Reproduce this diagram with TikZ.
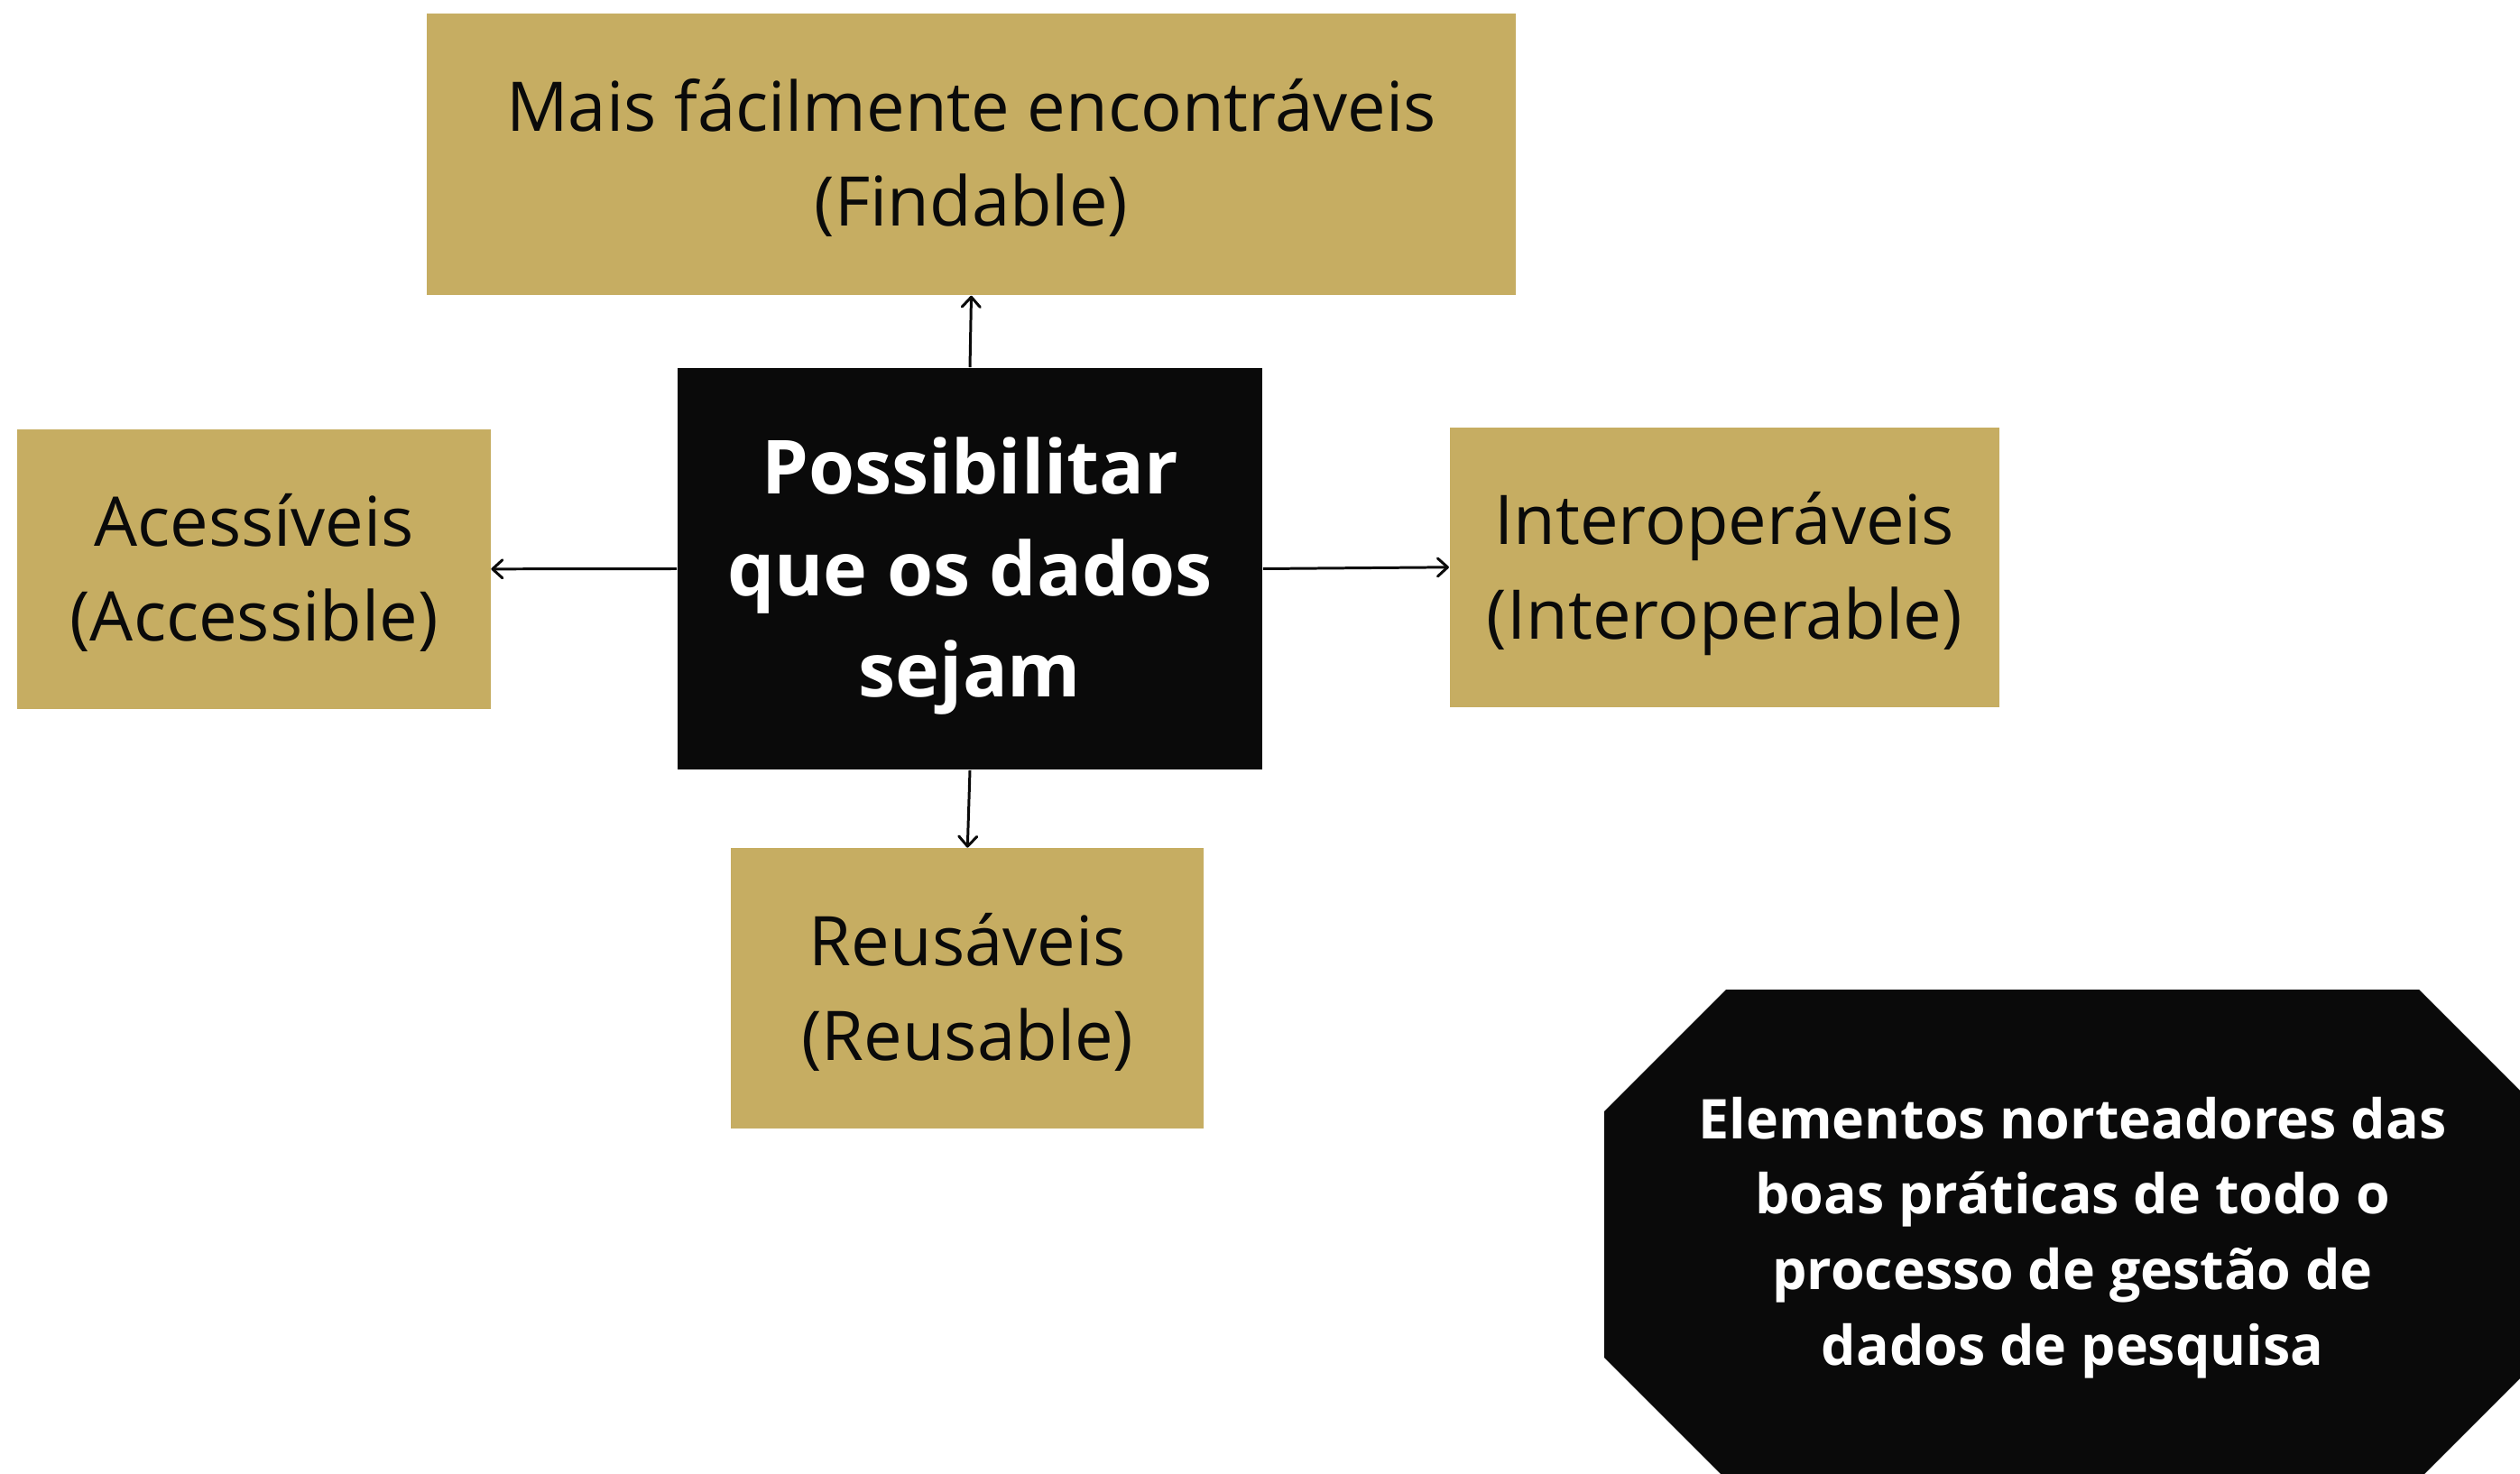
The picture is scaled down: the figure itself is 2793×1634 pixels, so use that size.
\documentclass[tikz,border=0pt]{standalone}
\usepackage{fontspec}
\setmainfont{Open Sans}
\usetikzlibrary{arrows.meta}
\definecolor{fairgold}{HTML}{C6AD62}
\definecolor{fairblack}{HTML}{0A0A0A}
\begin{document}
\begin{tikzpicture}[x=0.01cm, y=-0.01cm,
  goldbox/.style={rectangle, fill=fairgold, text=fairblack, inner sep=0pt, align=center, minimum height=3.1cm, font=\fontsize{21.6}{29.9}\selectfont, text height=45.3pt, text depth=0pt},
  arr/.style={line width=0.85pt, fairblack, -{Straight Barb[length=1.1mm, width=2mm, round]}}]
\clip (0,0) rectangle (2793,1634);
\node[goldbox, minimum width=12.07cm, minimum height=3.12cm] (findable) at (1076.5,171){Mais fácilmente encontráveis\\(Findable)};
\node[goldbox, minimum width=5.24cm] (accessible) at (281.5,630.8){Acessíveis\\(Accessible)};
\node[goldbox, minimum width=6.09cm] (interop) at (1911.3,628.8){Interoperáveis\\(Interoperable)};
\node[goldbox, minimum width=5.24cm] (reusable) at (1072.3,1095.5){Reusáveis\\(Reusable)};
\node[rectangle, fill=fairblack, text=white, inner sep=0pt, align=center, minimum width=6.48cm, minimum height=4.45cm, font=\bfseries\fontsize{23.5}{32.1}\selectfont, text height=81pt, text depth=0pt] (goal) at (1075,630.5){Possibilitar\\que os dados\\sejam};
% octagon
\fill[fairblack] (1778,1232) -- (1913,1097) -- (2681,1097) -- (2816,1232) -- (2816,1505) -- (2681,1640) -- (1913,1640) -- (1778,1505) -- cycle;
\node[text=white, inner sep=0pt, align=center, font=\bfseries\fontsize{17.3}{23.8}\selectfont, text height=83.75pt, text depth=0pt] (guide) at (2297,1366){Elementos norteadores das\\boas práticas de todo o\\processo de gestão de\\dados de pesquisa};
\draw[arr] (goal.north) -- (findable.south);
\draw[arr] (goal.west) -- (accessible.east);
\draw[arr] (goal.east) -- (interop.west);
\draw[arr] (goal.south) -- (reusable.north);
\end{tikzpicture}
\end{document}
